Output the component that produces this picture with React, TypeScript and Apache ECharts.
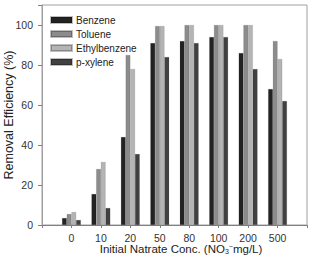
import React, { useEffect, useRef } from "react";
import * as echarts from "echarts";

const categories = ["", "0", "10", "20", "50", "80", "100", "200", "500", ""];
const benzene = [null, 3.5, 15.5, 44, 91, 92, 94, 86, 68, null];
const toluene = [null, 5.5, 28, 85, 99.5, 100, 100, 100, 92, null];
const ethylbenzene = [null, 6.5, 31.5, 78, 99.5, 100, 100, 100, 83, null];
const pxylene = [null, 2.5, 8.5, 35.5, 84, 91, 94, 78, 62, null];
const yTicks = [0, 20, 40, 60, 80, 100];

export default function App() {
  const ref = useRef<HTMLDivElement>(null);
  useEffect(() => {
    if (!ref.current) return;
    const chart = echarts.init(ref.current, null, { renderer: "svg" });
    const font = "Liberation Sans, Arial, sans-serif";
    const mk = (name: string, data: any[], color: string) => ({
      name,
      type: "bar",
      data,
      barWidth: 4.7,
      barGap: "0%",
      itemStyle: { color, borderColor: "rgba(0,0,0,0.25)", borderWidth: 0.4 },
    });
    chart.setOption({
      animation: false,
      textStyle: { fontFamily: font },
      grid: {
        left: 42,
        right: 6,
        top: 5,
        bottom: 31,
        containLabel: false,
        outerBoundsMode: "none",
        show: true,
        borderColor: "#a0a0a0",
        borderWidth: 1,
      },
      legend: {
        left: 50,
        top: 14,
        orient: "vertical",
        itemWidth: 21,
        itemHeight: 6,
        itemGap: 2,
        padding: 0,
        icon: "rect",
        textStyle: { fontSize: 10, lineHeight: 12, color: "#222", fontFamily: font, padding: [0, 0, 0, -1] },
        data: ["Benzene", "Toluene", "Ethylbenzene", "p-xylene"],
      },
      xAxis: {
        type: "category",
        data: categories,
        boundaryGap: false,
        axisLine: { lineStyle: { color: "#808080" } },
        axisTick: { show: true, length: 3, lineStyle: { color: "#808080" } },
        axisLabel: { fontSize: 10.5, color: "#333", margin: 7, interval: 0 },
        name: "Initial Natrate Conc. (NO{sub|3}{sup|−}mg/L)",
        nameLocation: "middle",
        nameGap: 18,
        nameMoveOverlap: false,
        nameTextStyle: {
          fontSize: 11.5,
          lineHeight: 12,
          color: "#222",
          padding: [0, 0, 0, 13],
          rich: {
            sub: { fontSize: 7, lineHeight: 12, verticalAlign: "bottom", color: "#222" },
            sup: { fontSize: 7, lineHeight: 12, verticalAlign: "top", color: "#222" },
          },
        },
      },
      yAxis: {
        type: "value",
        min: 0,
        max: 110,
        interval: 20,
        axisLine: { show: true, lineStyle: { color: "#a0a0a0" } },
        axisTick: { show: true, length: 4, lineStyle: { color: "#808080" } },
        splitLine: { show: false },
        axisLabel: {
          fontSize: 10.5,
          color: "#333",
          margin: 9,
          formatter: (v: number) => (yTicks.includes(v) ? String(v) : ""),
        },
        name: "Removal Efficiency (%)",
        nameLocation: "middle",
        nameGap: 27,
        nameMoveOverlap: false,
        nameTextStyle: { fontSize: 12.5, color: "#222" },
      },
      series: [
        mk("Benzene", benzene, "#232323"),
        mk("Toluene", toluene, "#8c8c8c"),
        mk("Ethylbenzene", ethylbenzene, "#b4b4b4"),
        mk("p-xylene", pxylene, "#404040"),
      ],
    });
    return () => chart.dispose();
  }, []);
  return <div ref={ref} style={{ width: 313, height: 256, position: "absolute", left: 0, top: 0 }} />;
}
